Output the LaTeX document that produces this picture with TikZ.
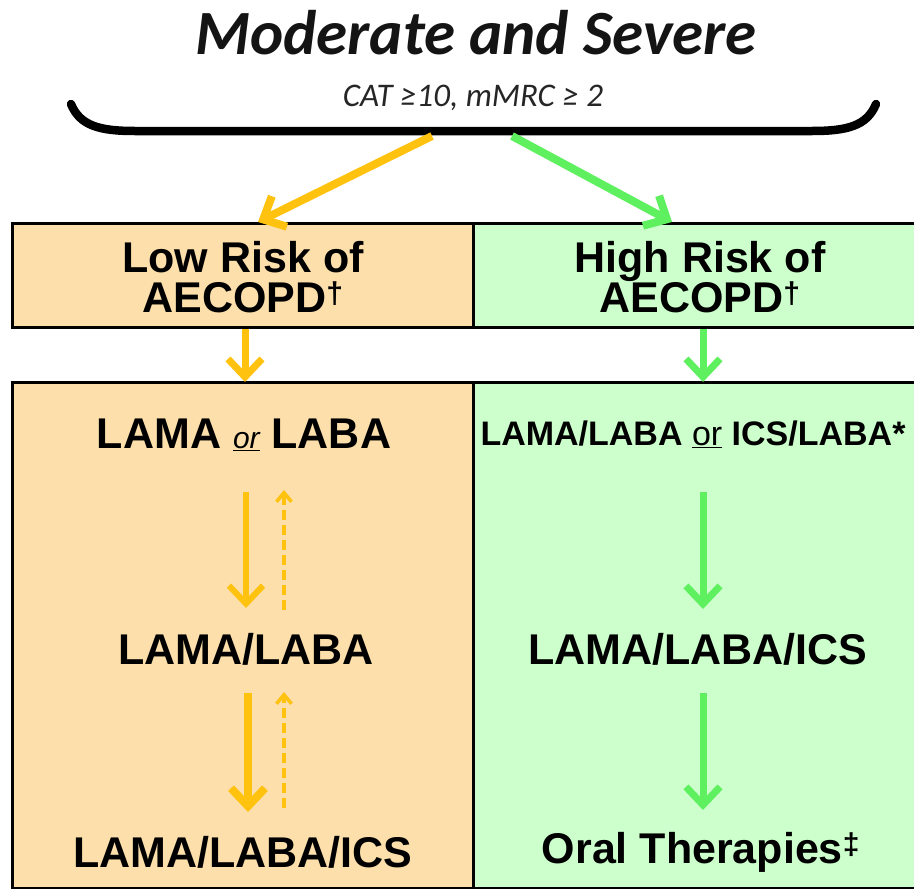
\documentclass[tikz,border=0pt]{standalone}
\usepackage{fontspec}
\setmainfont{Liberation Sans}
\newfontfamily\calfont{Carlito}
\usetikzlibrary{arrows.meta}
\definecolor{peach}{HTML}{FCDFAA}
\definecolor{mint}{HTML}{CCFFCC}
\definecolor{gold}{HTML}{FFC20E}
\definecolor{lgreen}{HTML}{5EF05E}
\tikzset{
  panel/.style={draw=black, line width=3pt, minimum width=461pt, inner sep=0pt, outer sep=0pt},
  lbl/.style={font=\bfseries\fontsize{43}{40}\selectfont, align=center, inner sep=0pt},
  bigarrow/.style={line width=8pt, -{Straight Barb[length=18pt,width=34pt]}},
  dasharrow/.style={line width=3.5pt, dash pattern=on 10pt off 5pt, -{Straight Barb[length=9pt,width=15pt]}},
}
\begin{document}
\begin{tikzpicture}[x=1pt,y=-1pt]
\useasboundingbox (0,0) rectangle (914,889);
\fill[white] (0,0) rectangle (914,889);
% title
\node (title) [font=\calfont\bfseries\itshape\fontsize{63}{63}\selectfont, anchor=base, text=black!92] at (476,54) {Moderate and Severe};
\node (crit) [font=\calfont\itshape\fontsize{33}{33}\selectfont, anchor=base, text=black!85] at (473,106) {CAT ≥10, mMRC ≥ 2};
% brace
\coordinate (bl) at (71,104);
\coordinate (br) at (876,104);
\draw[line width=8.5pt, line cap=round] (bl) .. controls (80,126) and (100,131) .. (135,131) -- (812,131) .. controls (847,131) and (867,126) .. (br);
\coordinate (ys) at (432,136);
\coordinate (gs) at (512,136);
% header panels
\node (hdrL) [panel, fill=peach, minimum height=104pt, anchor=north west] at (12,223) {};
\node (hdrR) [panel, fill=mint, minimum height=104pt, anchor=north west] at (473,223) {};
\node (hL) [lbl] at (243,277) {Low Risk of\\AECOPD\textsuperscript{†}};
\node (hR) [lbl] at (700,277) {High Risk of\\AECOPD\textsuperscript{†}};
% lower panels
\node (lowL) [panel, fill=peach, minimum height=506pt, anchor=north west] at (12,382) {};
\node (lowR) [panel, fill=mint, minimum height=506pt, anchor=north west] at (473,382) {};
% left texts
\node (l1) [lbl] at (244,435) {LAMA \textmd{\itshape\fontsize{30}{30}\selectfont\underline{or}} LABA};
\node (l2) [lbl] at (246,649) {LAMA/LABA};
\node (l3) [lbl] at (243,852) {LAMA/LABA/ICS};
% right texts
\node (r1) [lbl, font=\bfseries\fontsize{34}{34}\selectfont] at (693,434) {LAMA/LABA \textmd{\underline{or}} ICS/LABA*};
\node (r2) [lbl] at (698,649) {LAMA/LABA/ICS};
\node (r3) [lbl] at (701,852) {Oral Therapies\textsuperscript{‡}};
% top arrows
\draw[bigarrow, gold] (ys) -- (258,222);
\draw[bigarrow, lgreen] (gs) -- (672,222);
% header to lower
\draw[bigarrow, gold, line width=7pt] (245,329) -- (lowL.north -| 245,0);
\draw[bigarrow, lgreen, line width=7pt] (703,329) -- (lowR.north -| 703,0);
% left arrows
\draw[bigarrow, gold, line width=6pt] (246,492) -- (246,608);
\draw[dasharrow, gold] (284,610) -- (284,490);
\draw[bigarrow, gold] (248,693) -- (248,812);
\draw[dasharrow, gold] (284,808) -- (284,692);
% right arrows
\draw[bigarrow, lgreen, line width=7pt] (703,492) -- (703,609);
\draw[bigarrow, lgreen, line width=7pt] (703,693) -- (703,810);
\end{tikzpicture}
\end{document}
